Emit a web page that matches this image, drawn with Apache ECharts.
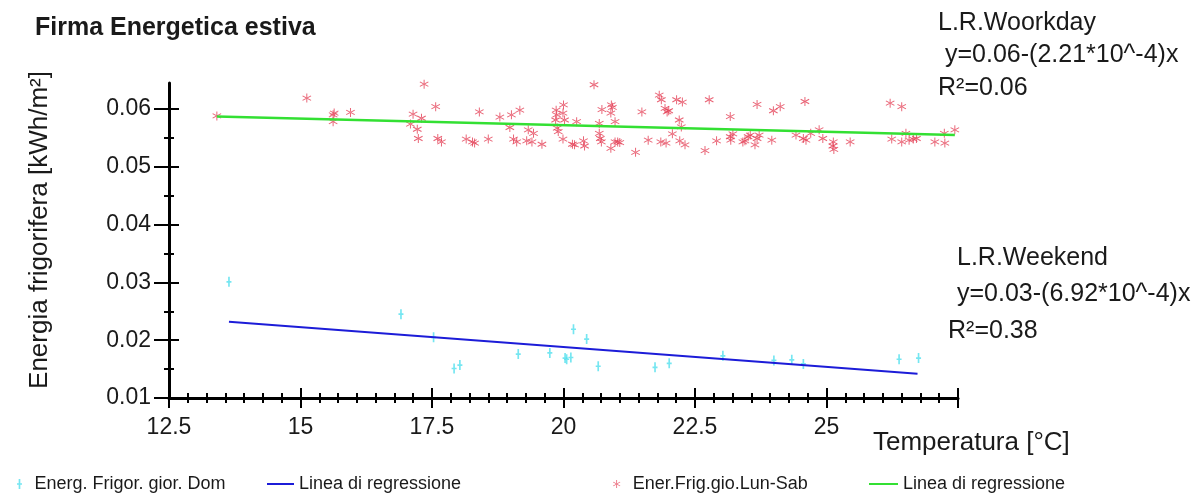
<!DOCTYPE html>
<html>
<head>
<meta charset="utf-8">
<script src="https://cdn.jsdelivr.net/npm/echarts@6/dist/echarts.min.js"></script>
<style>
  html, body { margin: 0; padding: 0; background: #fff; }
  #main { width: 1191px; height: 495px; }
</style>
</head>
<body>
<div id="main"></div>
<script>
var fontFamily = "'Liberation Sans', Arial, sans-serif";
var textColor = "#1a1a1a";

// tick labels
var xTicks = [12.5, 15, 17.5, 20, 22.5, 25];
var yTicks = [0.01, 0.02, 0.03, 0.04, 0.05, 0.06];
var yMinorTicks = [0.015, 0.025, 0.035, 0.045, 0.055];

// Ener.Frig.gio.Lun-Sab (lunedi - sabato)
var workdayPoints = [
  [13.41, 0.0588], [15.12, 0.0619], [15.62, 0.0590], [15.64, 0.0593], [15.62, 0.0578],
  [15.95, 0.0594], [17.35, 0.0643], [17.57, 0.0604], [17.14, 0.0591], [17.30, 0.0584],
  [17.09, 0.0574], [17.22, 0.0565], [17.24, 0.0549], [17.68, 0.0543], [17.61, 0.0549],
  [18.15, 0.0548], [18.27, 0.0543], [18.31, 0.0541], [18.57, 0.0548], [18.40, 0.0595],
  [18.79, 0.0586], [19.01, 0.0590], [19.17, 0.0598], [18.98, 0.0568], [19.05, 0.0548],
  [19.11, 0.0543], [19.30, 0.0545], [19.40, 0.0543], [19.33, 0.0564], [19.43, 0.0558],
  [19.59, 0.0539], [19.86, 0.0598], [19.87, 0.0590], [19.85, 0.0581], [20.00, 0.0607],
  [19.99, 0.0593], [20.02, 0.0581], [19.88, 0.0567], [19.90, 0.0561], [19.99, 0.0548],
  [20.17, 0.0539], [20.21, 0.0538], [20.25, 0.0578], [20.38, 0.0545], [20.40, 0.0536],
  [20.58, 0.0642], [20.73, 0.0599], [20.68, 0.0575], [20.68, 0.0558], [20.70, 0.0549],
  [20.72, 0.0543], [20.91, 0.0607], [20.93, 0.0603], [20.90, 0.0593], [20.98, 0.0578],
  [20.90, 0.0532], [20.98, 0.0543], [21.03, 0.0543], [21.07, 0.0542], [21.37, 0.0525],
  [21.49, 0.0595], [21.61, 0.0546], [21.82, 0.0624], [21.86, 0.0616], [21.93, 0.0601],
  [21.97, 0.0595], [22.00, 0.0597], [21.85, 0.0543], [21.95, 0.0541], [22.15, 0.0616],
  [22.26, 0.0612], [22.20, 0.0581], [22.07, 0.0557], [22.24, 0.0569], [22.21, 0.0545],
  [22.31, 0.0538], [22.69, 0.0528], [22.77, 0.0616], [22.91, 0.0545], [23.17, 0.0587],
  [23.17, 0.0552], [23.18, 0.0546], [23.22, 0.0557], [23.41, 0.0543], [23.45, 0.0545],
  [23.51, 0.0552], [23.55, 0.0555], [23.64, 0.0538], [23.68, 0.0549], [23.72, 0.0555],
  [23.68, 0.0608], [23.96, 0.0546], [23.99, 0.0597], [24.12, 0.0604], [24.42, 0.0555],
  [24.56, 0.0549], [24.61, 0.0546], [24.70, 0.0558], [24.59, 0.0613], [24.86, 0.0564],
  [24.93, 0.0549], [25.13, 0.0543], [25.12, 0.0536], [25.14, 0.0530], [25.45, 0.0543],
  [26.21, 0.0610], [26.43, 0.0604], [26.24, 0.0548], [26.43, 0.0543], [26.51, 0.0558],
  [26.57, 0.0546], [26.65, 0.0548], [26.71, 0.0549], [27.06, 0.0543], [27.24, 0.0558],
  [27.25, 0.0541], [27.44, 0.0564]
];

// Energ. Frigor. gior. Dom (domenica)
var weekendPoints = [
  [13.64, 0.0301], [16.91, 0.0245], [17.53, 0.0205], [17.92, 0.0151], [18.03, 0.0157],
  [19.14, 0.0176], [19.74, 0.0178], [20.03, 0.0169], [20.06, 0.0167], [20.14, 0.0170],
  [20.19, 0.0219], [20.44, 0.0202], [20.66, 0.0155], [21.74, 0.0153], [22.01, 0.0160],
  [23.03, 0.0173], [24.00, 0.0165], [24.34, 0.0166], [24.56, 0.0159], [26.38, 0.0167],
  [26.75, 0.0169]
];

// rette di regressione (estremi)
var workdayLine = [[13.41, 0.0587], [27.44, 0.0555]];
var weekendLine = [[13.64, 0.0232], [26.73, 0.0142]];

var starPath = 'path://M-1,-10L1,-10L1,10L-1,10Z' +
  'M8.16,5.87L9.16,4.13L-8.16,-5.87L-9.16,-4.13Z' +
  'M-9.16,4.13L-8.16,5.87L9.16,-4.13L8.16,-5.87Z';
var plusPath = 'path://M-1,-6L1,-6L1,6L-1,6Z M-3,-1L3,-1L3,1L-3,1Z';

var redColor = '#e43c52';
var cyanColor = '#52e0ee';

function xAx(inside, withLabel) {
  return {
    type: 'value', position: 'bottom',
    min: 12.5, max: 27.5, interval: 2.5,
    axisLine: { show: withLabel, onZero: false, lineStyle: { color: '#000', width: 3 } },
    axisTick: { show: true, inside: inside, length: 10, lineStyle: { color: '#000', width: 2 } },
    minorTick: { show: true, splitNumber: 7, length: 5, lineStyle: { color: '#000', width: 2 } },
    axisLabel: {
      show: withLabel, customValues: xTicks, margin: 18,
      color: textColor, fontSize: 23, fontFamily: fontFamily
    },
    splitLine: { show: false }
  };
}

function yAx(inside, ticks, len, withLabel) {
  return {
    type: 'value', position: 'left',
    min: 0.01, max: 0.0645, interval: 0.01,
    axisLine: { show: withLabel, onZero: false, lineStyle: { color: '#000', width: 3 } },
    axisTick: { show: true, inside: inside, length: len, customValues: ticks,
      lineStyle: { color: '#000', width: 2 } },
    axisLabel: {
      show: withLabel, customValues: yTicks, margin: 18,
      color: textColor, fontSize: 23, fontFamily: fontFamily,
      formatter: function (v) { return v.toFixed(2); }
    },
    splitLine: { show: false }
  };
}

function txt(s, left, top, size, weight) {
  return {
    type: 'text', left: left, top: top,
    style: { text: s, fill: textColor, font: (weight || 'normal') + ' ' + size + 'px ' + fontFamily }
  };
}

var legendText = { color: textColor, fontSize: 18, fontFamily: fontFamily };

var myChart = echarts.init(document.getElementById('main'));
var option = {
  animation: false,
  grid: { left: 169, right: 233, top: 83, bottom: 97 },
  xAxis: [xAx(true, true), xAx(false, false)],
  yAxis: [
    yAx(false, yTicks, 15, true),
    yAx(true, yTicks, 10, false),
    yAx(false, yMinorTicks, 5, false),
    yAx(true, yMinorTicks, 5, false)
  ],
  legend: [
    { left: 12, top: 470, itemWidth: 6, itemHeight: 10, data: [{ name: 'Dom', icon: plusPath }],
      formatter: function () { return 'Energ. Frigor. gior. Dom'; },
      textStyle: Object.assign({ padding: [0, 0, 0, 7] }, legendText) },
    { left: 262, top: 470, itemWidth: 27, itemHeight: 2, data: [{ name: 'regDom', icon: 'rect' }],
      formatter: function () { return 'Linea di regressione'; }, textStyle: legendText },
    { left: 608, top: 470, itemWidth: 8, itemHeight: 8, data: [{ name: 'LunSab', icon: starPath }],
      formatter: function () { return 'Ener.Frig.gio.Lun-Sab'; },
      textStyle: Object.assign({ padding: [0, 0, 0, 7] }, legendText) },
    { left: 864, top: 470, itemWidth: 29, itemHeight: 2, data: [{ name: 'regLunSab', icon: 'rect' }],
      formatter: function () { return 'Linea di regressione'; }, textStyle: legendText }
  ],
  graphic: [
    txt('Firma Energetica estiva', 35, 16, 25, 'bold'),
    {
      type: 'text', x: 40, y: 230, rotation: Math.PI / 2,
      style: {
        text: 'Energia frigorifera [kWh/m²]', fill: textColor,
        font: '26px ' + fontFamily, align: 'center', verticalAlign: 'middle'
      }
    },
    txt('L.R.Woorkday', 938, 11, 25),
    txt('y=0.06-(2.21*10^-4)x', 945, 43, 25),
    txt('R²=0.06', 938, 76, 25),
    txt('L.R.Weekend', 957, 246, 25),
    txt('y=0.03-(6.92*10^-4)x', 957, 282, 25),
    txt('R²=0.38', 948, 319, 25),
    txt('Temperatura [°C]', 873, 430, 26)
  ],
  series: [
    {
      name: 'Dom', type: 'scatter', data: weekendPoints,
      symbol: plusPath, symbolSize: [5, 10],
      itemStyle: { color: cyanColor }
    },
    {
      name: 'regDom', type: 'line', data: weekendLine,
      symbol: 'none', lineStyle: { color: '#1c1cd8', width: 2 }, itemStyle: { color: '#1c1cd8' }
    },
    {
      name: 'LunSab', type: 'scatter', data: workdayPoints,
      symbol: starPath, symbolSize: 9,
      itemStyle: { color: redColor }
    },
    {
      name: 'regLunSab', type: 'line', data: workdayLine,
      symbol: 'none', lineStyle: { color: '#33e033', width: 2.5 }, itemStyle: { color: '#33e033' }
    }
  ]
};
myChart.setOption(option);
</script>
</body>
</html>
